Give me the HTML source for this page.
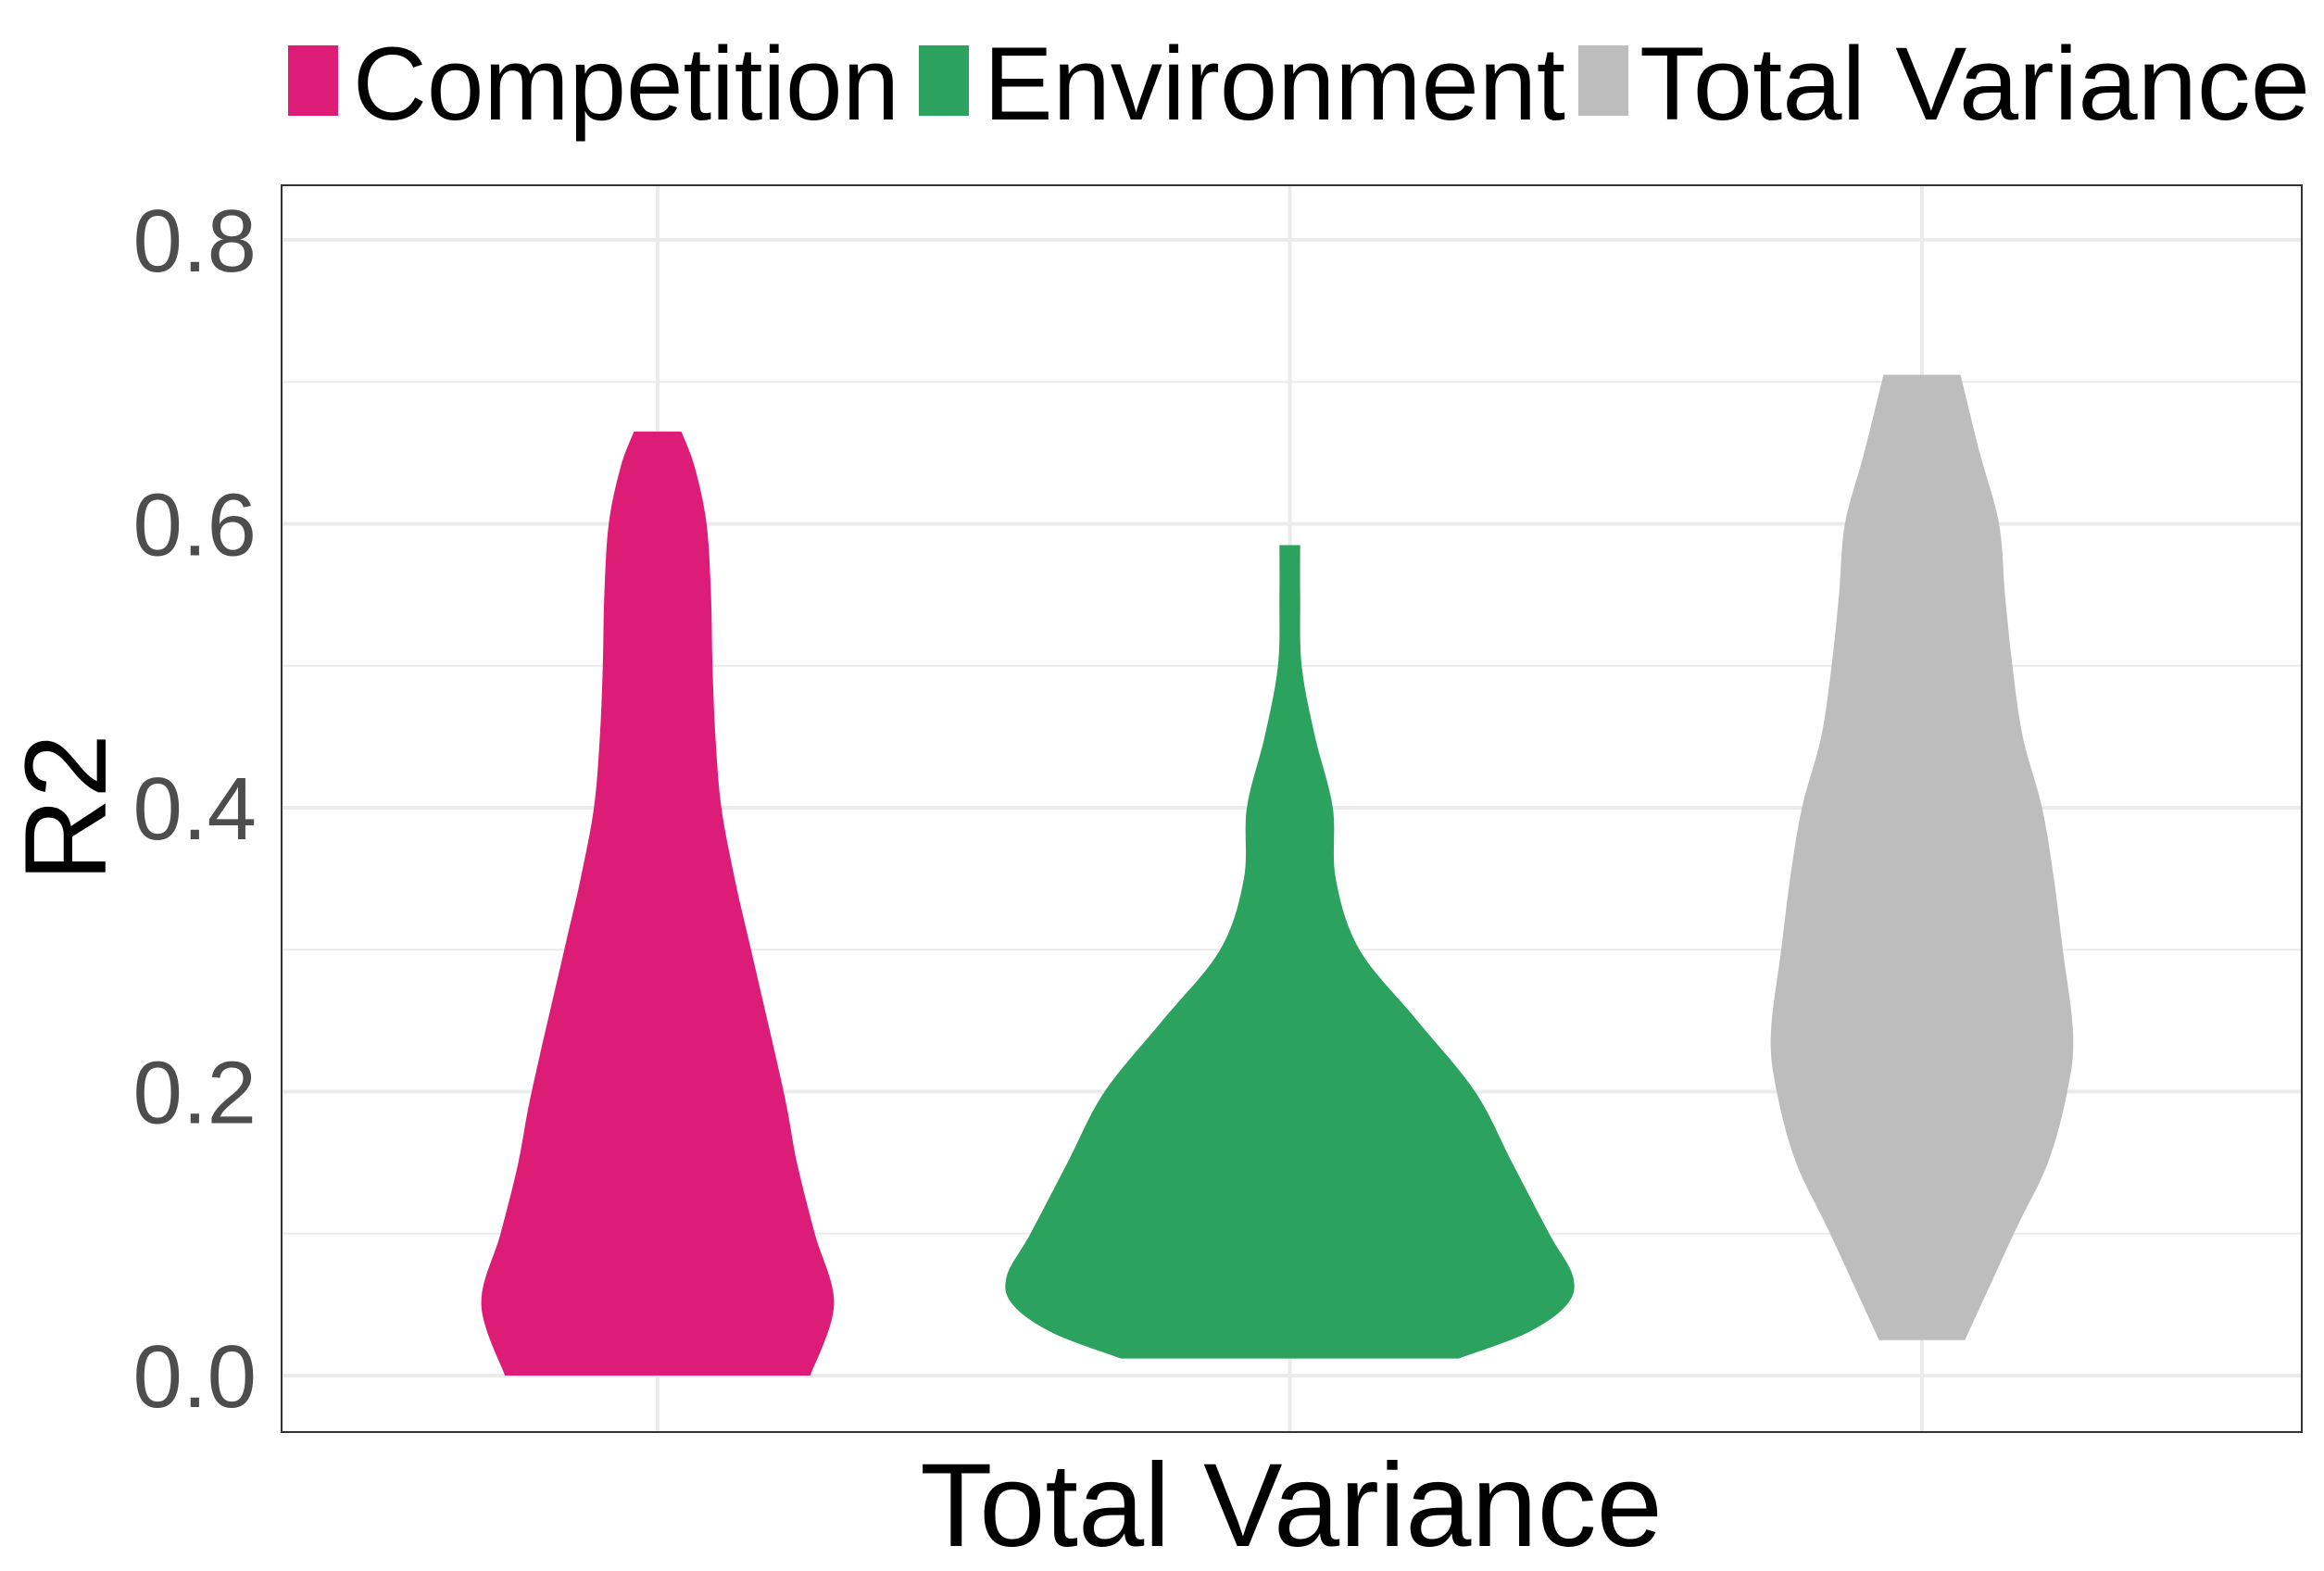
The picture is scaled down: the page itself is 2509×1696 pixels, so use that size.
<!DOCTYPE html>
<html><head><meta charset="utf-8"><style>
html,body{margin:0;padding:0;background:#fff;}
svg{display:block;font-family:"Liberation Sans",sans-serif;}
</style></head><body>
<svg id="chart" width="2509" height="1696" viewBox="0 0 2509 1696" xmlns="http://www.w3.org/2000/svg">
<g id="grid"></g>
<g id="violins"></g>
<rect x="304" y="200" width="2181" height="1346" fill="none" stroke="#333" stroke-width="2"/>
<g id="yticks"></g>
<text x="1394" y="1669" font-size="128" text-anchor="middle" fill="#000">Total Variance</text>
<text transform="translate(114,872) rotate(-90)" font-size="125" text-anchor="middle" fill="#000">R2</text>
<g>
<rect x="311" y="49" width="54" height="76" fill="#DD1C77"/>
<text x="381" y="129" font-size="112" fill="#000" textLength="590" lengthAdjust="spacingAndGlyphs">Competition</text>
<rect x="992" y="49" width="54" height="76" fill="#2CA25F"/>
<text x="1062" y="129" font-size="112" fill="#000" textLength="628" lengthAdjust="spacingAndGlyphs">Environment</text>
<rect x="1704" y="49" width="54" height="76" fill="#BDBDBD"/>
<text x="1770" y="129" font-size="112" fill="#000" textLength="724" lengthAdjust="spacingAndGlyphs">Total Variance</text>
</g>
</svg>
<script>
const categories = ["Competition","Environment","Total Variance"];
const colors = ["#DD1C77","#2CA25F","#BDBDBD"];
const yTickValues = [0,0.2,0.4,0.6,0.8];
const yTickLabels = ["0.0","0.2","0.4","0.6","0.8"];
const compY = [0,0.05,0.1,0.15,0.2,0.3,0.35,0.4,0.45,0.5,0.55,0.6,0.64,0.665];
const compW = [103,119,106,94,85,63,52,43,39,37,36,33,25,16];
const envY = [0.012,0.03,0.05,0.07,0.1,0.15,0.2,0.25,0.3,0.35,0.4,0.45,0.5,0.55,0.585];
const envW = [114,160,187,191,175,150,125,86,47,31,29,17,8,7,7];
const totY = [0.025,0.1,0.15,0.2,0.24,0.3,0.35,0.4,0.45,0.5,0.55,0.6,0.65,0.705];
const totW = [29,62,85,98,102,95,89,81,68,61,56,52,39,26];

const NS="http://www.w3.org/2000/svg";
const yS = v => 1485 - v*1532.5;
const xS = i => 710 + i*682.5;
const wS = d => d*1.6;
const grid=document.getElementById('grid');
for(let k=0;k<=8;k++){
  const v=k/10, y=yS(v);
  const l=document.createElementNS(NS,'line');
  
  
  l.setAttribute('x1',305);l.setAttribute('x2',2484);l.setAttribute('y1',y);l.setAttribute('y2',y);
  l.setAttribute('stroke','#ebebeb');l.setAttribute('stroke-width',k%2?2:4);
  grid.appendChild(l);
}
categories.forEach((c,i)=>{
  const l=document.createElementNS(NS,'line');
  
  
  l.setAttribute('x1',xS(i));l.setAttribute('x2',xS(i));l.setAttribute('y1',201);l.setAttribute('y2',1545);
  l.setAttribute('stroke','#ebebeb');l.setAttribute('stroke-width',4);
  grid.appendChild(l);
});
const yt=document.getElementById('yticks');
yTickValues.forEach((v,k)=>{
  const t=document.createElementNS(NS,'text');
  
  
  t.setAttribute('x',277);t.setAttribute('y',yS(v)+34);
  t.setAttribute('text-anchor','end');t.setAttribute('font-size',96);t.setAttribute('fill','#4d4d4d');
  t.textContent=yTickLabels[k];
  yt.appendChild(t);
});
function spline(pts){
  let d='';
  for(let j=0;j<pts.length-1;j++){
    const p0=pts[Math.max(0,j-1)],p1=pts[j],p2=pts[j+1],p3=pts[Math.min(pts.length-1,j+2)];
    const c1=[p1[0]+(p2[0]-p0[0])/6,p1[1]+(p2[1]-p0[1])/6];
    const c2=[p2[0]-(p3[0]-p1[0])/6,p2[1]-(p3[1]-p1[1])/6];
    d+=' C'+c1[0].toFixed(1)+','+c1[1].toFixed(1)+' '+c2[0].toFixed(1)+','+c2[1].toFixed(1)+' '+p2[0].toFixed(1)+','+p2[1].toFixed(1);
  }
  return d;
}
const series=[[compY,compW],[envY,envW],[totY,totW]];
const vg=document.getElementById('violins');
series.forEach((s,i)=>{
  const [ys,ws]=s, cx=xS(i);
  const right=ys.map((y,j)=>[cx+wS(ws[j]),yS(y)]);
  const left=ys.map((y,j)=>[cx-wS(ws[j]),yS(y)]).reverse();
  let d='M'+right[0][0].toFixed(1)+','+right[0][1].toFixed(1)+spline(right);
  d+=' L'+left[0][0].toFixed(1)+','+left[0][1].toFixed(1)+spline(left)+' Z';
  const p=document.createElementNS(NS,'path');
  
  
  p.setAttribute('d',d);
  p.setAttribute('fill',colors[i]);
  vg.appendChild(p);
});
</script>
</body></html>
